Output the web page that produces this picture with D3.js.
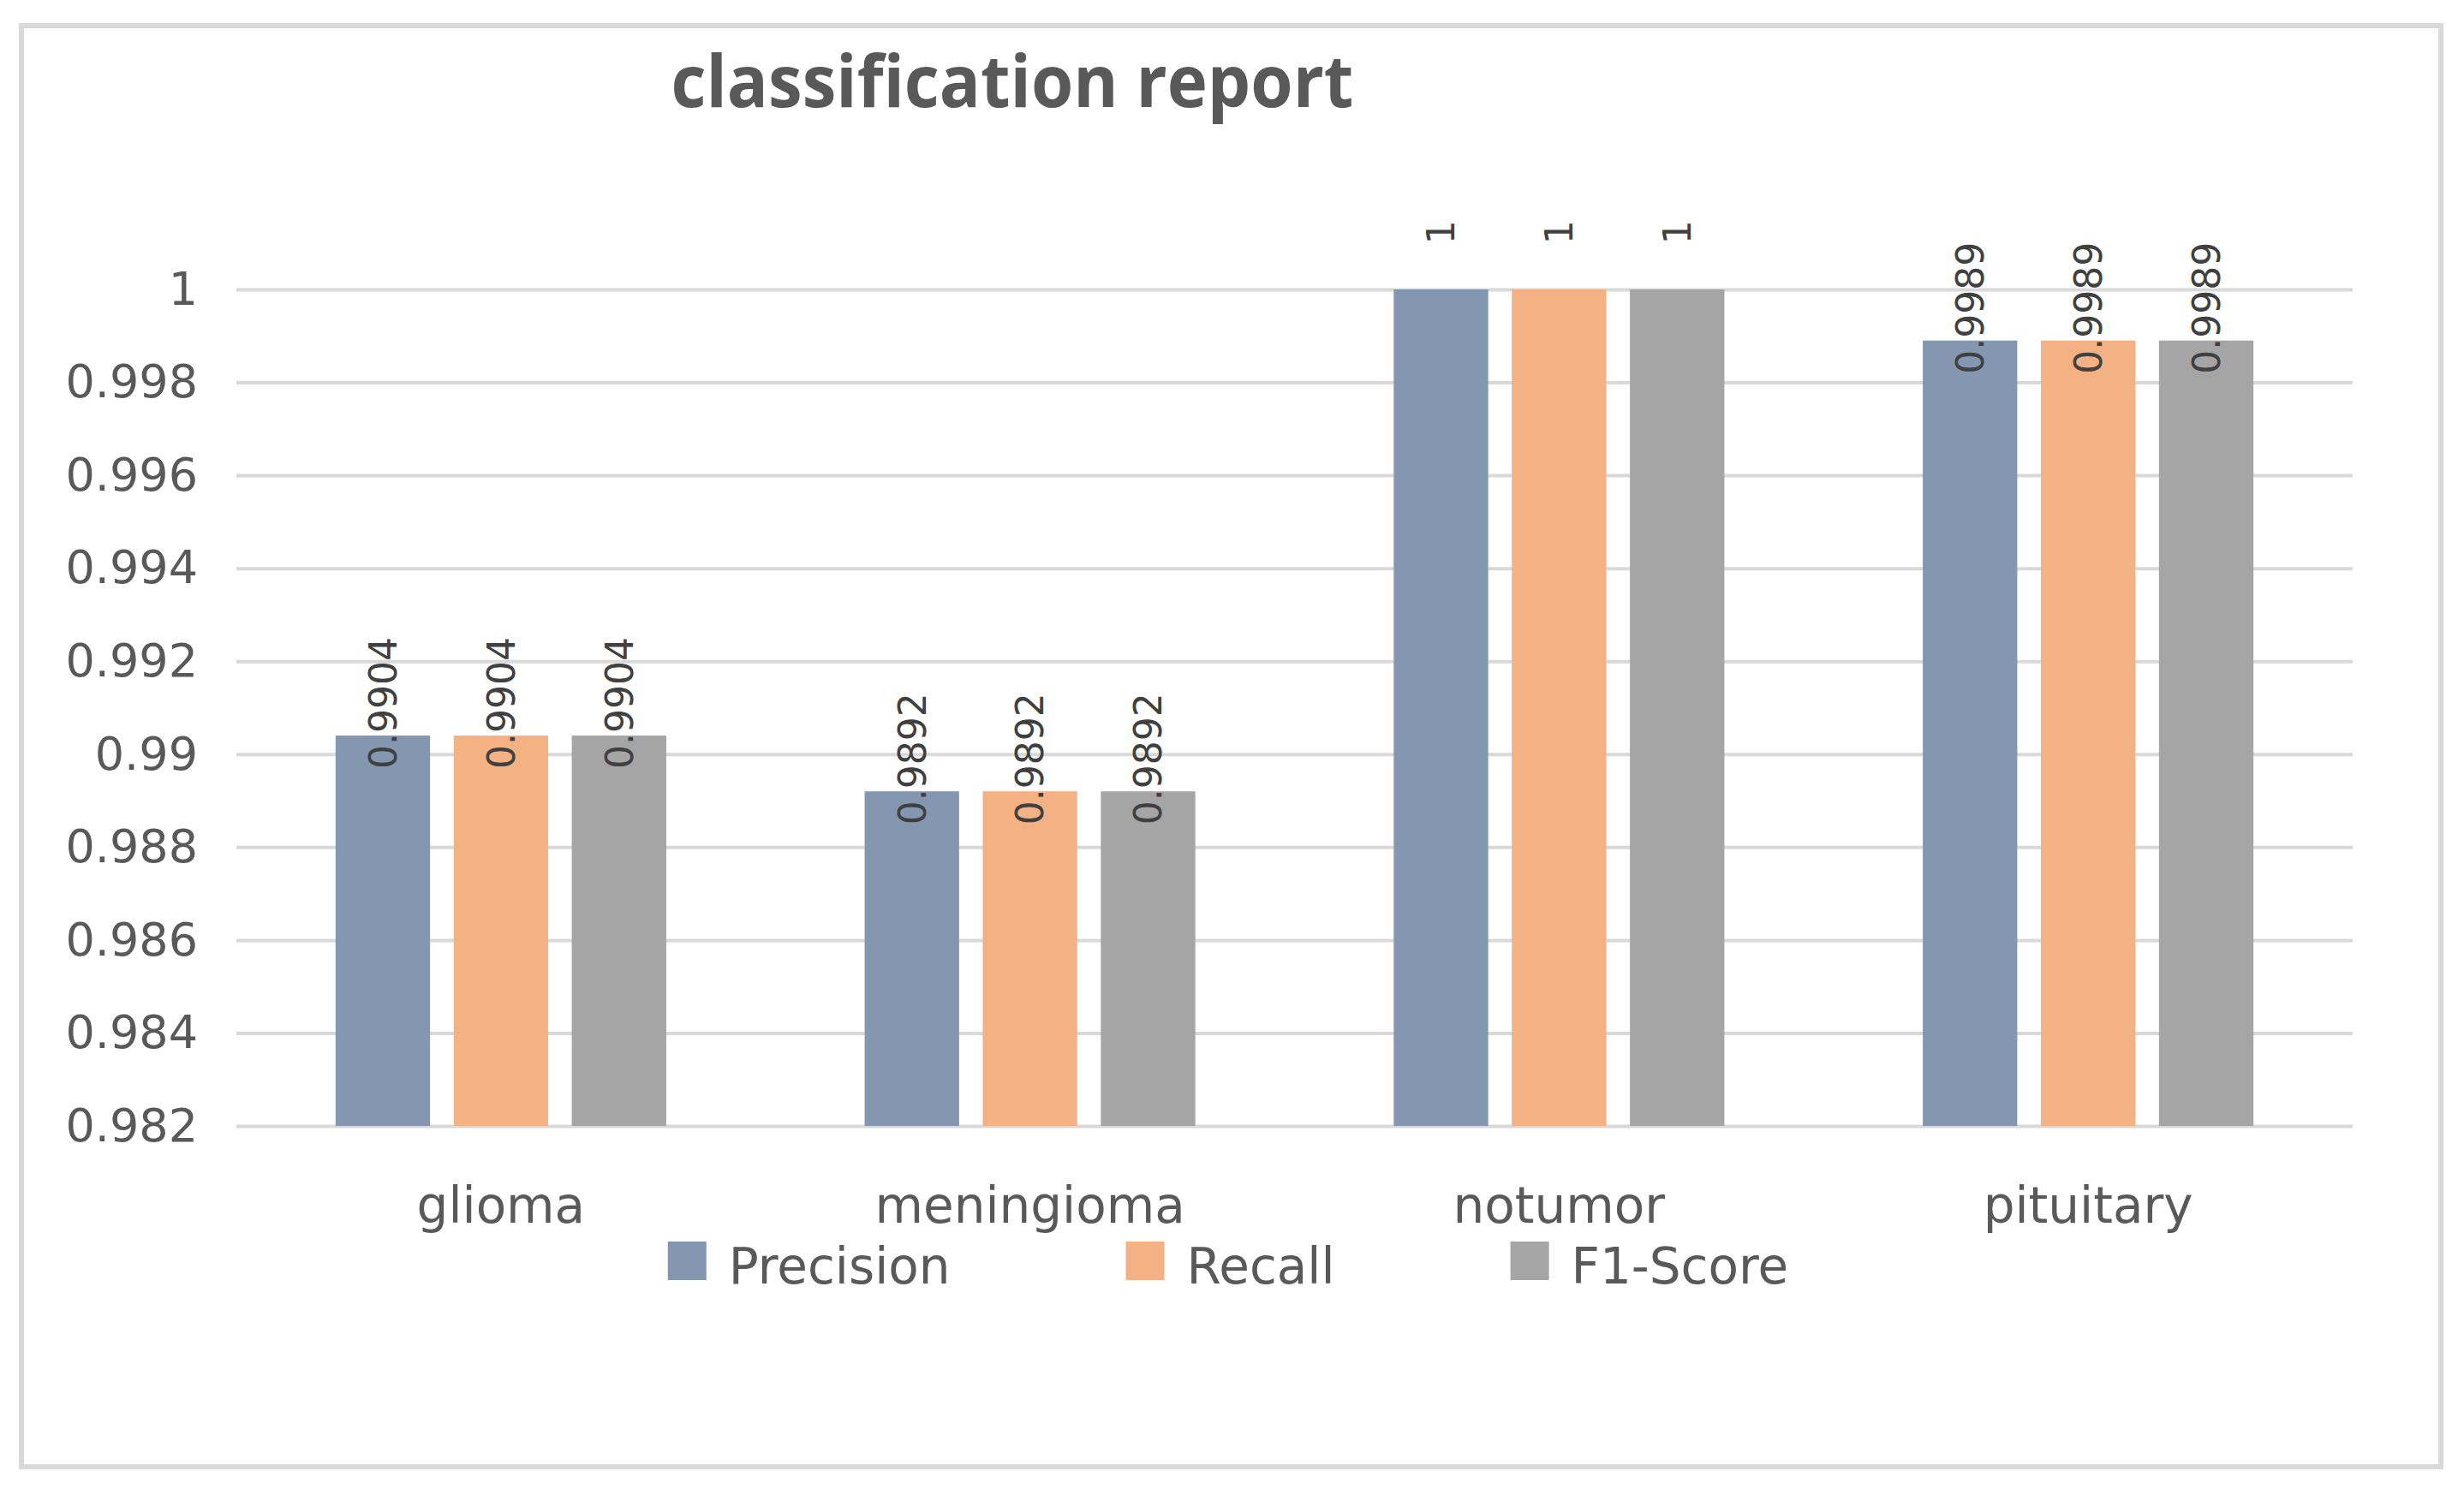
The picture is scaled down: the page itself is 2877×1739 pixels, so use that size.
<!DOCTYPE html>
<html>
<head>
<meta charset="utf-8">
<script src="https://cdn.jsdelivr.net/npm/d3@7"></script>
<style>
  body { margin: 0; background: #fff; }
  svg { display: block; }
</style>
</head>
<body>
<svg id="chart" width="2877" height="1739"></svg>
<script>
const categories = ["glioma", "meningioma", "notumor", "pituitary"];
const seriesNames = ["Precision", "Recall", "F1-Score"];
const precision = [0.9904, 0.9892, 1, 0.9989];
const recall = [0.9904, 0.9892, 1, 0.9989];
const f1Score = [0.9904, 0.9892, 1, 0.9989];
const tickValues = [0.982, 0.984, 0.986, 0.988, 0.99, 0.992, 0.994, 0.996, 0.998, 1];
const colors = ["#8497b0", "#f4b183", "#a5a5a5"];

const seriesValues = [precision, recall, f1Score];
const rows = categories.map((c, i) => ({
  category: c,
  values: seriesNames.map((s, j) => ({ series: s, value: seriesValues[j][i], idx: j }))
}));

const svg = d3.select("#chart");
const font = "'DejaVu Sans', Verdana, sans-serif";

// outer frame
svg.append("rect")
  .attr("x", 25).attr("y", 30)
  .attr("width", 2825).attr("height", 1683)
  .attr("fill", "#fff")
  .attr("stroke", "#d9d9d9")
  .attr("stroke-width", 6);

const plot = { left: 276, right: 2747, top: 338, bottom: 1315 };

const x = d3.scaleBand()
  .domain(categories)
  .range([plot.left, plot.right])
  .paddingInner(0.375)
  .paddingOuter(0.1875);

const xs = d3.scaleBand()
  .domain(seriesNames)
  .range([0, x.bandwidth()])
  .paddingInner(0.2);

const y = d3.scaleLinear()
  .domain([0.982, 1])
  .range([plot.bottom, plot.top]);

// gridlines
const grid = svg.append("g")
  .attr("transform", "translate(" + plot.left + ",0)")
  .call(d3.axisLeft(y).tickValues(tickValues).tickSize(-(plot.right - plot.left)).tickFormat(""));
grid.select(".domain").remove();
grid.selectAll("line").attr("stroke", "#d9d9d9").attr("stroke-width", 4);

// y axis labels
const yAxis = svg.append("g")
  .attr("transform", "translate(" + plot.left + ",0)")
  .call(d3.axisLeft(y).tickValues(tickValues).tickSize(0).tickPadding(45).tickFormat(d3.format("")));
yAxis.select(".domain").remove();
yAxis.selectAll("text")
  .attr("font-family", font)
  .attr("font-size", 54)
  .attr("fill", "#595959");

// bars
const groups = svg.append("g")
  .selectAll("g")
  .data(rows)
  .join("g")
  .attr("transform", d => "translate(" + x(d.category) + ",0)");

groups.selectAll("rect")
  .data(d => d.values)
  .join("rect")
  .attr("x", d => xs(d.series))
  .attr("y", d => y(d.value))
  .attr("width", xs.bandwidth())
  .attr("height", d => y(0.982) - y(d.value))
  .attr("fill", d => colors[d.idx]);

// rotated data labels (they sit over the bar end, as in the original)
groups.selectAll("text.label")
  .data(d => d.values)
  .join("text")
  .attr("class", "label")
  .attr("font-family", font)
  .attr("font-size", 44)
  .attr("fill", "#404040")
  .attr("text-anchor", "middle")
  .attr("dy", "0.36em")
  .text(d => d3.format("")(d.value))
  .each(function(d) {
    const len = this.getComputedTextLength();
    const top = y(d.value);
    const cy = top - 73 + 0.227 * len;
    const cx = xs(d.series) + xs.bandwidth() / 2;
    d3.select(this).attr("transform", "translate(" + cx + "," + cy + ") rotate(-90)");
  });

// x axis labels
const xAxis = svg.append("g")
  .attr("transform", "translate(0," + plot.bottom + ")")
  .call(d3.axisBottom(x).tickSize(0).tickPadding(72));
xAxis.select(".domain").remove();
xAxis.selectAll("text")
  .attr("font-family", font)
  .attr("font-size", 58)
  .attr("fill", "#595959");

// title
const title = svg.append("text")
  .attr("x", 1182)
  .attr("y", 125)
  .attr("text-anchor", "middle")
  .attr("font-family", "'Open Sans', sans-serif")
  .attr("font-weight", "bold")
  .attr("font-size", 84)
  .attr("fill", "#595959")
  .text("classification report");
if (title.node().getComputedTextLength() > 797) {
  title.attr("textLength", 797).attr("lengthAdjust", "spacingAndGlyphs");
}

// legend
const legend = svg.append("g");
const items = legend.selectAll("g")
  .data(seriesNames)
  .join("g");
items.append("rect")
  .attr("width", 45).attr("height", 45)
  .attr("y", 1450)
  .attr("fill", (d, i) => colors[i]);
items.append("text")
  .attr("x", 71)
  .attr("y", 1499)
  .attr("font-family", font)
  .attr("font-size", 58)
  .attr("fill", "#595959")
  .text(d => d);

const widths = [];
items.each(function() { widths.push(71 + d3.select(this).select("text").node().getComputedTextLength()); });
const gap = 205;
const total = d3.sum(widths) + gap * (widths.length - 1);
let cursor = 1434 - total / 2;
items.attr("transform", (d, i) => {
  const t = "translate(" + cursor + ",0)";
  cursor += widths[i] + gap;
  return t;
});
</script>
</body>
</html>
